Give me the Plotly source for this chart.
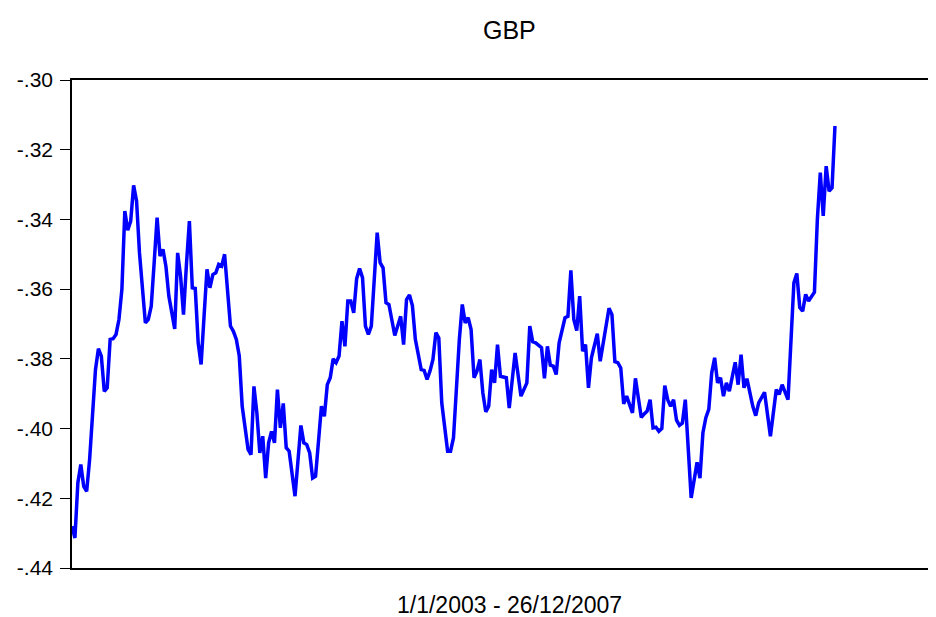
import pandas as pd
import plotly.graph_objects as go

# --------------------------------------------
# GBP weekly series, 1/1/2003 - 26/12/2007
# --------------------------------------------
# week number since 1/1/2003 at each turning point of the line
weeks = [0, 1, 2, 3, 4, 5, 6, 8, 9, 10, 11, 12, 13, 14, 15, 16, 17, 18, 19, 20,
         21, 22, 23, 25, 26, 27, 28, 29, 30, 31, 32, 33, 35, 36, 37, 38, 39, 40, 41, 42,
         43, 44, 45, 46, 47, 48, 49, 50, 51, 52, 54, 55, 56, 57, 58, 60, 61, 62, 63, 64,
         65, 66, 67, 68, 69, 70, 71, 72, 73, 74, 76, 78, 79, 80, 81, 82, 83, 85, 86, 87,
         88, 89, 90, 91, 92, 93, 94, 95, 96, 97, 98, 99, 100, 101, 102, 104, 105, 106, 107, 108,
         110, 112, 113, 114, 115, 116, 117, 119, 120, 121, 122, 123, 124, 125, 126, 128, 129, 130, 132, 133,
         134, 135, 136, 137, 138, 139, 140, 141, 142, 143, 144, 145, 146, 148, 149, 150, 151, 153, 154, 155,
         156, 157, 158, 160, 161, 162, 163, 164, 165, 166, 168, 169, 170, 171, 172, 173, 174, 175, 176, 177,
         179, 180, 183, 184, 185, 186, 187, 188, 189, 191, 192, 194, 195, 196, 197, 198, 199, 200, 201, 202,
         203, 204, 205, 206, 207, 208, 209, 211, 213, 214, 215, 216, 217, 218, 219, 220, 221, 222, 223, 224,
         226, 227, 228, 229, 230, 232, 233, 234, 236, 238, 240, 241, 242, 243, 244, 246, 247, 248, 249, 250,
         251, 253, 254, 255, 256, 257, 258, 259, 260]

gbp = [-0.4280, -0.4314, -0.4155, -0.4103, -0.4166, -0.4180, -0.4089, -0.3831, -0.3771, -0.3792,
       -0.3893, -0.3883, -0.3744, -0.3742, -0.3730, -0.3687, -0.3601, -0.3376, -0.3431, -0.3405,
       -0.3302, -0.3347, -0.3496, -0.3697, -0.3687, -0.3649, -0.3524, -0.3395, -0.3505, -0.3486,
       -0.3534, -0.3620, -0.3714, -0.3496, -0.3563, -0.3673, -0.3529, -0.3405, -0.3596, -0.3598,
       -0.3754, -0.3816, -0.3678, -0.3543, -0.3596, -0.3558, -0.3553, -0.3529, -0.3534, -0.3500,
       -0.3706, -0.3721, -0.3744, -0.3792, -0.3936, -0.4060, -0.4075, -0.3879, -0.3955, -0.4070,
       -0.4022, -0.4142, -0.4041, -0.4008, -0.4041, -0.3888, -0.3998, -0.3928, -0.4055, -0.4065,
       -0.4194, -0.3991, -0.4041, -0.4046, -0.4070, -0.4142, -0.4137, -0.3936, -0.3965, -0.3874,
       -0.3854, -0.3800, -0.3811, -0.3792, -0.3692, -0.3764, -0.3634, -0.3634, -0.3668, -0.3570,
       -0.3541, -0.3567, -0.3706, -0.3730, -0.3706, -0.3438, -0.3524, -0.3539, -0.3639, -0.3644,
       -0.3733, -0.3678, -0.3759, -0.3630, -0.3617, -0.3647, -0.3744, -0.3831, -0.3833, -0.3859,
       -0.3835, -0.3802, -0.3725, -0.3740, -0.3926, -0.4065, -0.4065, -0.4027, -0.3744, -0.3644,
       -0.3697, -0.3682, -0.3716, -0.3854, -0.3835, -0.3802, -0.3897, -0.3952, -0.3936, -0.3831,
       -0.3869, -0.3759, -0.3850, -0.3854, -0.3941, -0.3850, -0.3783, -0.3907, -0.3888, -0.3869,
       -0.3706, -0.3751, -0.3754, -0.3768, -0.3856, -0.3764, -0.3818, -0.3821, -0.3845, -0.3754,
       -0.3682, -0.3678, -0.3546, -0.3687, -0.3719, -0.3620, -0.3778, -0.3759, -0.3883, -0.3797,
       -0.3728, -0.3807, -0.3655, -0.3673, -0.3808, -0.3811, -0.3826, -0.3929, -0.3907, -0.3955,
       -0.3856, -0.3968, -0.3958, -0.3950, -0.3917, -0.3998, -0.3996, -0.4008, -0.4000, -0.3877,
       -0.3917, -0.3936, -0.3917, -0.3976, -0.3991, -0.3984, -0.3917, -0.4199, -0.4097, -0.4142,
       -0.4012, -0.3969, -0.3945, -0.3840, -0.3797, -0.3869, -0.3854, -0.3907, -0.3869, -0.3893,
       -0.3810, -0.3874, -0.3788, -0.3883, -0.3857, -0.3936, -0.3963, -0.3926, -0.3896, -0.4022,
       -0.3888, -0.3902, -0.3874, -0.3893, -0.3917, -0.3582, -0.3555, -0.3653, -0.3663, -0.3615,
       -0.3634, -0.3609, -0.3400, -0.3266, -0.3390, -0.3247, -0.3319, -0.3309, -0.3132]

y_ticks = [-0.44, -0.42, -0.40, -0.38, -0.36, -0.34, -0.32, -0.30]
y_tick_labels = ["-.44", "-.42", "-.40", "-.38", "-.36", "-.34", "-.32", "-.30"]

start = pd.Timestamp("2003-01-01")
dates = [start + pd.Timedelta(weeks=w) for w in weeks]

fig = go.Figure()
fig.add_trace(go.Scatter(x=dates, y=gbp, mode="lines",
                         line=dict(color="#0000FF", width=3.5), showlegend=False))

# page body keeps its 8px margin, so the figure is 8px smaller each way
fig.update_layout(
    width=928, height=609,
    margin=dict(l=64, r=0, t=72, b=49),
    paper_bgcolor="white",
    plot_bgcolor="white",
    font=dict(family="Liberation Sans, Arial, sans-serif", color="black"),
)
# axis runs on past the end of the data, as in the original
fig.update_xaxes(
    range=[start, start + pd.Timedelta(days=2061)],
    showticklabels=False, ticks="", showgrid=False, zeroline=False,
    showline=True, linecolor="black", linewidth=1.5, mirror=True,
)
fig.update_yaxes(
    range=[-0.44, -0.30],
    tickvals=y_ticks, ticktext=y_tick_labels,
    ticks="outside", ticklen=10, tickwidth=1.2, tickcolor="black",
    tickfont=dict(size=21), ticklabelstandoff=3,
    showgrid=False, zeroline=False,
    showline=True, linecolor="black", linewidth=1.5,
)
fig.add_annotation(text="GBP", xref="paper", yref="paper", x=0.506, y=1.1025,
                   xanchor="center", yanchor="middle", showarrow=False,
                   font=dict(size=25))
fig.add_annotation(text="1/1/2003 - 26/12/2007", xref="paper", yref="paper",
                   x=0.506, y=-0.076, xanchor="center", yanchor="middle",
                   showarrow=False, font=dict(size=23))

fig.write_html("out.html")
